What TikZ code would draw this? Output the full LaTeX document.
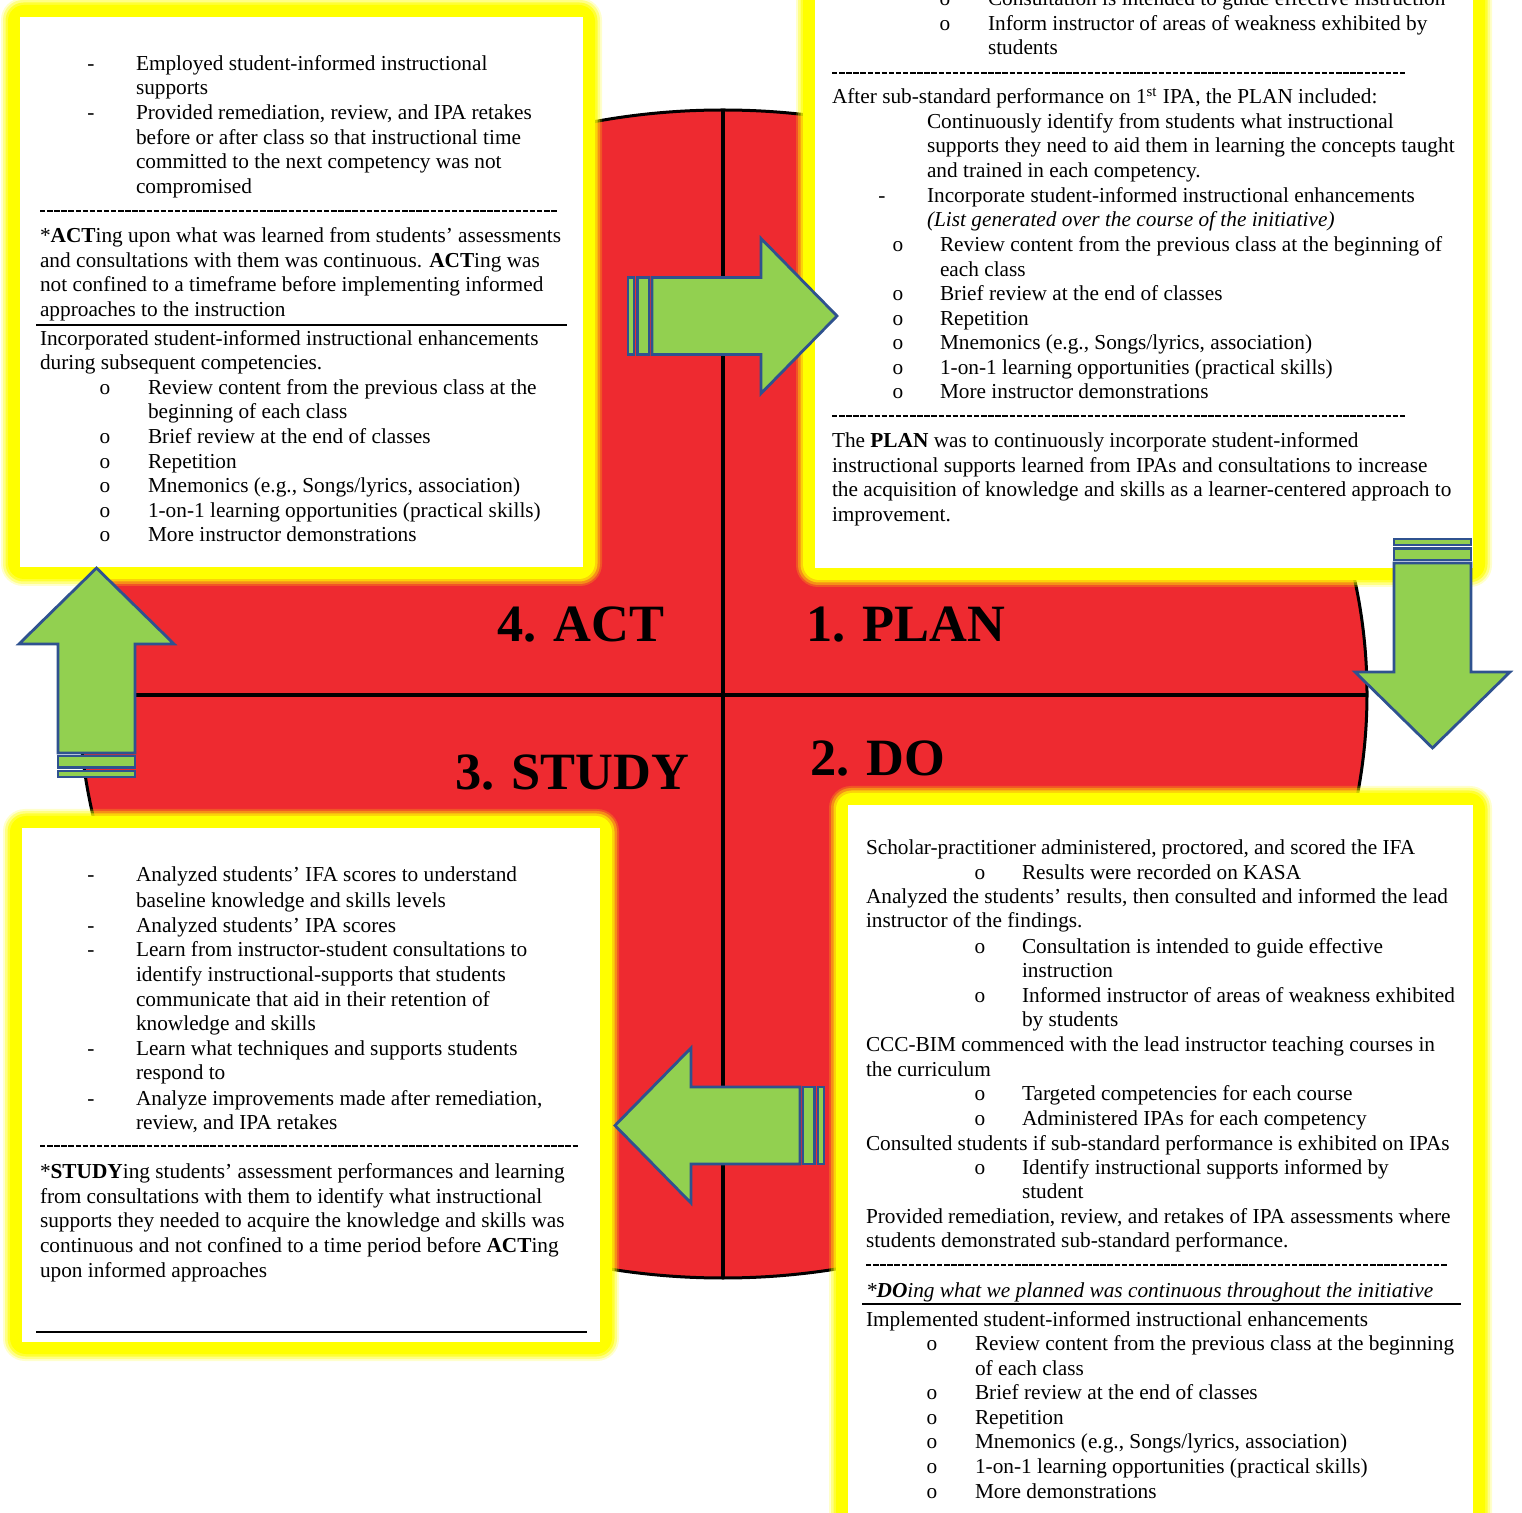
\documentclass[tikz,border=0pt]{standalone}
\usepackage{fontspec}
\setmainfont{Liberation Serif}

\definecolor{cyclered}{RGB}{238,42,48}
\definecolor{arrowgreen}{RGB}{146,208,80}
\definecolor{arrowline}{RGB}{47,82,143}
\definecolor{glowc}{RGB}{255,255,0}

\newcommand\bodyfont{\fontsize{10.65pt}{12.3pt}\selectfont}
\newcommand\headfont{\fontsize{26.2pt}{30pt}\selectfont\bfseries}

% one line of text, a round bullet, a dash bullet (each gets its own name)
\newcounter{ln}
\newcommand\tline[3]{\stepcounter{ln}\node[txt] (ln\arabic{ln}) at (#1,#2) {#3};}
\newcommand\obul[2]{\stepcounter{ln}\node[bul] (ln\arabic{ln}) at (#1,#2) {o};}
\newcommand\dbul[2]{\stepcounter{ln}\node[bul] (ln\arabic{ln}) at (#1,#2) {-};}

% white text panel with a soft yellow halo
\newcommand\glowbox[4]{%
  \fill[glowc, opacity=0.2, rounded corners=11pt] ({#1-19},{#2-19}) rectangle ({#3+19},{#4+19});
  \fill[glowc, opacity=0.35, rounded corners=10pt] ({#1-17},{#2-17}) rectangle ({#3+17},{#4+17});
  \fill[glowc, opacity=0.6, rounded corners=9pt] ({#1-14.5},{#2-14.5}) rectangle ({#3+14.5},{#4+14.5});
  \fill[glowc, rounded corners=8pt] ({#1-12},{#2-12}) rectangle ({#3+12},{#4+12});
  \fill[white] (#1,#2) rectangle (#3,#4);
}

% block arrow pointing along local +x, origin at its striped tail
\newcommand\blockarrow[3]{%
  \begin{scope}[shift={(#1,#2)}, rotate=#3]
    \filldraw[arrowshape] (0,-38.5) rectangle (6,38.5);
    \filldraw[arrowshape] (9.5,-38.5) rectangle (21,38.5);
    \filldraw[arrowshape] (24,-38.5) -- (133,-38.5) -- (133,-77.5) -- (209,0)
      -- (133,77.5) -- (133,38.5) -- (24,38.5) -- cycle;
  \end{scope}
}

\tikzset{
  txt/.style={anchor=base west, inner sep=0pt, outer sep=0pt, font=\bodyfont},
  bul/.style={anchor=base, inner sep=0pt, outer sep=0pt, font=\bodyfont},
  head/.style={anchor=base west, inner sep=0pt, outer sep=0pt, font=\headfont},
  arrowshape/.style={fill=arrowgreen, draw=arrowline, line width=1.4pt, line join=miter},
  hyphenrule/.style={line width=0.75pt, dash pattern=on 2.7pt off 0.85pt},
  solidrule/.style={line width=1pt},
}

\begin{document}
\begin{tikzpicture}[x=0.5pt, y=-0.5pt]
\useasboundingbox (0,0) rectangle (1522,1513);
\clip (0,0) rectangle (1522,1513);

% the PDSA wheel
\fill[cyclered] (723,694) ellipse [x radius=644, y radius=584];
\draw[line width=1.5pt] (723,694) ellipse [x radius=644, y radius=584];
\draw[line width=2.3pt] (723,110) -- (723,1278);
\draw[line width=2.3pt] (79,695) -- (1367,695);

% panels
\glowbox{20}{17}{583}{567}
\glowbox{815}{-80}{1473}{568}
\glowbox{22}{828}{600}{1342}
\glowbox{848}{805}{1473}{1600}

% ---- ACT panel
\dbul{91}{71} \tline{136}{71}{Employed student-informed instructional}
\tline{136}{95}{supports}
\dbul{91}{120} \tline{136}{120}{Provided remediation, review, and IPA retakes}
\tline{136}{145}{before or after class so that instructional time}
\tline{136}{169}{committed to the next competency was not}
\tline{136}{194}{compromised}
\draw[hyphenrule] (40,211) -- (557,211);
\tline{40}{243}{*\textbf{ACT}ing upon what was learned from students’ assessments}
\tline{40}{268}{and consultations with them was continuous. \textbf{ACT}ing was}
\tline{40}{292}{not confined to a timeframe before implementing informed}
\tline{40}{317}{approaches to the instruction}
\draw[solidrule] (36,325) -- (567,325);
\tline{40}{346}{Incorporated student-informed instructional enhancements}
\tline{40}{370}{during subsequent competencies.}
\obul{105}{395} \tline{148}{395}{Review content from the previous class at the}
\tline{148}{419}{beginning of each class}
\obul{105}{444} \tline{148}{444}{Brief review at the end of classes}
\obul{105}{469} \tline{148}{469}{Repetition}
\obul{105}{493} \tline{148}{493}{Mnemonics (e.g., Songs/lyrics, association)}
\obul{105}{518} \tline{148}{518}{1-on-1 learning opportunities (practical skills)}
\obul{105}{542} \tline{148}{542}{More instructor demonstrations}

% ---- PLAN panel
\obul{945}{6} \tline{988}{6}{Consultation is intended to guide effective instruction}
\obul{945}{31} \tline{988}{31}{Inform instructor of areas of weakness exhibited by}
\tline{988}{55}{students}
\draw[hyphenrule] (832,73) -- (1405,73);
\tline{832}{104}{After sub-standard performance on 1\textsuperscript{st} IPA, the PLAN included:}
\tline{927}{129}{Continuously identify from students what instructional}
\tline{927}{153}{supports they need to aid them in learning the concepts taught}
\tline{927}{178}{and trained in each competency.}
\dbul{882}{203} \tline{927}{203}{Incorporate student-informed instructional enhancements}
\tline{927}{227}{\textit{(List generated over the course of the initiative)}}
\obul{898}{252} \tline{940}{252}{Review content from the previous class at the beginning of}
\tline{940}{277}{each class}
\obul{898}{301} \tline{940}{301}{Brief review at the end of classes}
\obul{898}{326} \tline{940}{326}{Repetition}
\obul{898}{350} \tline{940}{350}{Mnemonics (e.g., Songs/lyrics, association)}
\obul{898}{375} \tline{940}{375}{1-on-1 learning opportunities (practical skills)}
\obul{898}{399} \tline{940}{399}{More instructor demonstrations}
\draw[hyphenrule] (832,416) -- (1405,416);
\tline{832}{448}{The \textbf{PLAN} was to continuously incorporate student-informed}
\tline{832}{473}{instructional supports learned from IPAs and consultations to increase}
\tline{832}{497}{the acquisition of knowledge and skills as a learner-centered approach to}
\tline{832}{522}{improvement.}

% ---- STUDY panel
\dbul{91}{882} \tline{136}{882}{Analyzed students’ IFA scores to understand}
\tline{136}{907}{baseline knowledge and skills levels}
\dbul{91}{932} \tline{136}{932}{Analyzed students’ IPA scores}
\dbul{91}{957} \tline{136}{957}{Learn from instructor-student consultations to}
\tline{136}{981}{identify instructional-supports that students}
\tline{136}{1006}{communicate that aid in their retention of}
\tline{136}{1030}{knowledge and skills}
\dbul{91}{1055} \tline{136}{1055}{Learn what techniques and supports students}
\tline{136}{1079}{respond to}
\dbul{91}{1105} \tline{136}{1105}{Analyze improvements made after remediation,}
\tline{136}{1129}{review, and IPA retakes}
\draw[hyphenrule] (40,1146) -- (578,1146);
\tline{40}{1178}{*\textbf{STUDY}ing students’ assessment performances and learning}
\tline{40}{1203}{from consultations with them to identify what instructional}
\tline{40}{1227}{supports they needed to acquire the knowledge and skills was}
\tline{40}{1252}{continuous and not confined to a time period before \textbf{ACT}ing}
\tline{40}{1277}{upon informed approaches}
\draw[solidrule] (36,1332) -- (587,1332);

% ---- DO panel
\tline{866}{855}{Scholar-practitioner administered, proctored, and scored the IFA}
\obul{980}{879} \tline{1022}{879}{Results were recorded on KASA}
\tline{866}{904}{Analyzed the students’ results, then consulted and informed the lead}
\tline{866}{928}{instructor of the findings.}
\obul{980}{953} \tline{1022}{953}{Consultation is intended to guide effective}
\tline{1022}{978}{instruction}
\obul{980}{1002} \tline{1022}{1002}{Informed instructor of areas of weakness exhibited}
\tline{1022}{1026}{by students}
\tline{866}{1051}{CCC-BIM commenced with the lead instructor teaching courses in}
\tline{866}{1076}{the curriculum}
\obul{980}{1100} \tline{1022}{1100}{Targeted competencies for each course}
\obul{980}{1125} \tline{1022}{1125}{Administered IPAs for each competency}
\tline{866}{1150}{Consulted students if sub-standard performance is exhibited on IPAs}
\obul{980}{1174} \tline{1022}{1174}{Identify instructional supports informed by}
\tline{1022}{1198}{student}
\tline{866}{1223}{Provided remediation, review, and retakes of IPA assessments where}
\tline{866}{1247}{students demonstrated sub-standard performance.}
\draw[hyphenrule] (866,1265) -- (1447,1265);
\tline{866}{1297}{\itshape *\textbf{DO}ing what we planned was continuous throughout the initiative}
\draw[solidrule] (862,1304) -- (1461,1304);
\tline{866}{1326}{Implemented student-informed instructional enhancements}
\obul{932}{1350} \tline{975}{1350}{Review content from the previous class at the beginning}
\tline{975}{1375}{of each class}
\obul{932}{1399} \tline{975}{1399}{Brief review at the end of classes}
\obul{932}{1424} \tline{975}{1424}{Repetition}
\obul{932}{1448} \tline{975}{1448}{Mnemonics (e.g., Songs/lyrics, association)}
\obul{932}{1473} \tline{975}{1473}{1-on-1 learning opportunities (practical skills)}
\obul{932}{1498} \tline{975}{1498}{More demonstrations}

% quadrant titles
\node[head] (act)   at (497,642) {4. ACT};
\node[head] (plan)  at (806,642) {1. PLAN};
\node[head] (study) at (455,790) {3. STUDY};
\node[head] (do)    at (810,776) {2. DO};

% cycle arrows
\blockarrow{628}{316}{0}
\blockarrow{1432.5}{539}{-90}
\blockarrow{824}{1125.5}{180}
\blockarrow{96.5}{777}{90}
\end{tikzpicture}
\end{document}
